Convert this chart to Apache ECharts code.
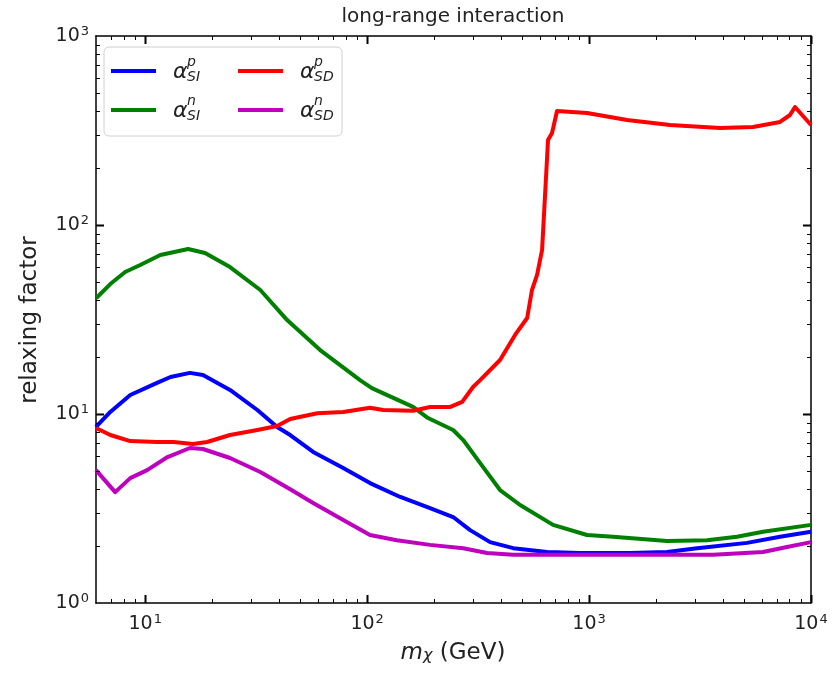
<!DOCTYPE html>
<html>
<head>
<meta charset="utf-8">
<script src="https://cdn.jsdelivr.net/npm/echarts@6/dist/echarts.min.js"></script>
<style>
html,body{margin:0;padding:0;background:#fff;}
#chart{width:835px;height:674px;}
</style>
</head>
<body>
<div id="chart"></div>
<script>
// data: [m_chi (GeV), relaxing factor]
var siP = [[6.0,8.54],[6.96,10.25],[8.56,12.6],[11.3,14.6],[13.0,15.7],[15.9,16.5],[18.2,16.1],[24.1,13.4],
    [32.0,10.5],[39.3,8.54],[45.0,7.74],[57.1,6.30],[78.0,5.18],[103,4.31],[141,3.64],[192,3.18],[244,2.85],
    [291,2.43],[358,2.10],[455,1.95],[647,1.86],[911,1.84],[1530,1.84],[2246,1.86],[3065,1.95],[5150,2.08],
    [7250,2.24],[10000,2.38]];
var siN = [[6.02,41.1],[6.96,48.7],[8.12,56.4],[9.49,61.4],[11.7,69.4],[15.6,74.6],[18.6,71.1],[24.1,59.9],
    [33.0,45.3],[43.6,31.4],[61.4,21.8],[92.9,15.1],[105,13.7],[161,10.9],[188,9.52],[244,8.23],[271,7.28],
    [323,5.50],[397,3.96],[489,3.30],[688,2.59],[979,2.29],[1283,2.24],[2246,2.13],[3400,2.15],[4640,2.24],
    [6080,2.38],[10000,2.59]];
var sdP = [[6.0,8.44],[6.96,7.74],[8.56,7.19],[11.3,7.11],[13.4,7.11],[16.4,6.94],[19.0,7.11],[24.1,7.74],
    [32.0,8.23],[39.3,8.64],[45.0,9.41],[59.6,10.1],[78,10.25],[103,10.8],[118,10.5],[161,10.4],[192,10.9],
    [237,10.9],[268,11.6],[300,13.9],[323,15.1],[397,19.3],[464,26.2],[526,32.2],[553,45.3],[583,54.4],
    [614,73.7],[647,229],[653,282],[681,307],[717,401],[979,391],[1483,359],[2316,338],[3890,326],[5480,330],
    [7250,351],[8040,382],[8470,421],[10000,338]];
var sdN = [[6.0,5.05],[7.32,3.86],[8.56,4.58],[10.2,5.05],[12.6,5.92],[15.9,6.61],[18.2,6.53],[24.1,5.85],
    [33.0,4.93],[45,4.0],[57.1,3.38],[78,2.75],[103,2.29],[136,2.15],[192,2.03],[271,1.95],[347,1.84],
    [455,1.80],[1530,1.80],[3620,1.80],[6080,1.86],[7800,1.98],[10000,2.10]];

var xMinor = [7,8,9,20,30,40,50,60,70,80,90,200,300,400,500,600,700,800,900,2000,3000,4000,5000,6000,7000,8000,9000];
var yMinor = [2,3,4,5,6,7,8,9,20,30,40,50,60,70,80,90,200,300,400,500,600,700,800,900];
var xMajor = [10,100,1000,10000];
var yMajor = [10,100];

var color = ['#0000ff','#008000','#ff0000','#bf00bf'];
var font = 'DejaVu Sans';

function powLabel(value) {
    var e = Math.log10(value);
    if (Math.abs(e - Math.round(e)) > 1e-6) return '';
    return '{b|10}{s|' + Math.round(e) + '}';
}
var labelRich = {
    b: {fontFamily: font, fontSize: 19, color: '#222'},
    s: {fontFamily: font, fontSize: 13, color: '#222', padding: [0,0,9,1]}
};

function curve(data, c) {
    return {
        type: 'line', data: data, showSymbol: false, symbol: 'none',
        clip: true, z: 3,
        lineStyle: {color: c, width: 4, join: 'round'}
    };
}

function legendEntry(x, y, c, sup, sub) {
    return [
        {type: 'line', shape: {x1: x, y1: y, x2: x + 45, y2: y}, style: {stroke: c, lineWidth: 4}},
        {type: 'text', x: x + 62, y: y + 1, style: {text: 'α', font: 'italic 22px ' + font, fill: '#222', textVerticalAlign: 'middle'}},
        {type: 'text', x: x + 76, y: y - 9, style: {text: sup, font: 'italic 14px ' + font, fill: '#222', textVerticalAlign: 'middle'}},
        {type: 'text', x: x + 76, y: y + 6, style: {text: sub, font: 'italic 14px ' + font, fill: '#222', textVerticalAlign: 'middle'}}
    ];
}

var myChart = echarts.init(document.getElementById('chart'));
var axisLine = {show: true, onZero: false, lineStyle: {color: '#000', width: 1.5}};

var legendChildren = [
    {type: 'rect', shape: {x: 104, y: 47, width: 238, height: 89, r: 5}, style: {fill: 'rgba(255,255,255,0.85)', stroke: '#d0d0d0', lineWidth: 1}}
].concat(legendEntry(111, 71, color[0], 'p', 'SI'), legendEntry(238, 71, color[2], 'p', 'SD'),
         legendEntry(111, 110, color[1], 'n', 'SI'), legendEntry(238, 110, color[3], 'n', 'SD'));

option = {
    animation: false,
    backgroundColor: '#fff',
    grid: {left: 96, right: 24, top: 36, bottom: 71, containLabel: false},
    xAxis: [
        {type: 'log', logBase: 10, min: 6, max: 10000, position: 'bottom',
         axisLine: axisLine, axisTick: {show: false}, splitLine: {show: false},
         axisLabel: {formatter: powLabel, rich: labelRich, margin: 10}},
        {type: 'log', logBase: 10, min: 6, max: 10000, position: 'top',
         axisLine: axisLine, axisTick: {show: false}, splitLine: {show: false}, axisLabel: {show: false}}
    ],
    yAxis: [
        {type: 'log', logBase: 10, min: 1, max: 1000, position: 'left',
         axisLine: axisLine, axisTick: {show: false}, splitLine: {show: false},
         axisLabel: {formatter: powLabel, rich: labelRich, margin: 7}},
        {type: 'log', logBase: 10, min: 1, max: 1000, position: 'right',
         axisLine: axisLine, axisTick: {show: false}, splitLine: {show: false}, axisLabel: {show: false}}
    ],
    graphic: [
        {type: 'text', x: 453, y: 17, z: 10, style: {text: 'long-range interaction', font: '20px ' + font, fill: '#222', textAlign: 'center', textVerticalAlign: 'middle'}},
        {type: 'text', x: 30, y: 320, rotation: Math.PI / 2, z: 10, style: {text: 'relaxing factor', font: '23px ' + font, fill: '#222', textAlign: 'center', textVerticalAlign: 'middle'}},
        {type: 'text', x: 453, y: 656, z: 10, style: {
            text: '{i|m}{c|χ}{n| (GeV)}', textAlign: 'center', textVerticalAlign: 'middle',
            rich: {
                i: {fontFamily: font, fontStyle: 'italic', fontSize: 23, fill: '#222', padding: [0,0,6,0]},
                c: {fontFamily: font, fontStyle: 'italic', fontSize: 16, fill: '#222'},
                n: {fontFamily: font, fontSize: 23, fill: '#222', padding: [0,0,6,0]}
            }}},
        {type: 'group', z: 20, children: legendChildren}
    ],
    series: [
        curve(siP, color[0]),
        curve(siN, color[1]),
        curve(sdP, color[2]),
        curve(sdN, color[3])
    ]
};
myChart.setOption(option, true);

// ticks pointing inward on all four sides, placed through the axis scales
var cornerTL = myChart.convertToPixel({gridIndex: 0}, [6, 1000]);
var cornerBR = myChart.convertToPixel({gridIndex: 0}, [10000, 1]);
var gx0 = cornerTL[0], gy0 = cornerTL[1], gx1 = cornerBR[0], gy1 = cornerBR[1];
var ticks = [];
function tick(a, b, c, d, w) {
    ticks.push({type: 'line', z: 15, shape: {x1: a, y1: b, x2: c, y2: d}, style: {stroke: '#000', lineWidth: w}});
}
xMajor.concat(xMinor).forEach(function (v) {
    var major = xMajor.indexOf(v) >= 0;
    var len = major ? 8 : 4, w = major ? 2 : 1;
    var px = Math.round(myChart.convertToPixel({gridIndex: 0}, [v, 1])[0]) + 0.5;
    tick(px, gy1, px, gy1 - len, w);
    tick(px, gy0, px, gy0 + len, w);
});
yMajor.concat(yMinor).forEach(function (v) {
    var major = yMajor.indexOf(v) >= 0;
    var len = major ? 8 : 4, w = major ? 2 : 1;
    var py = Math.round(myChart.convertToPixel({gridIndex: 0}, [6, v])[1]) + 0.5;
    tick(gx0, py, gx0 + len, py, w);
    tick(gx1, py, gx1 - len, py, w);
});
myChart.setOption({graphic: option.graphic.concat(ticks)});
</script>
</body>
</html>
